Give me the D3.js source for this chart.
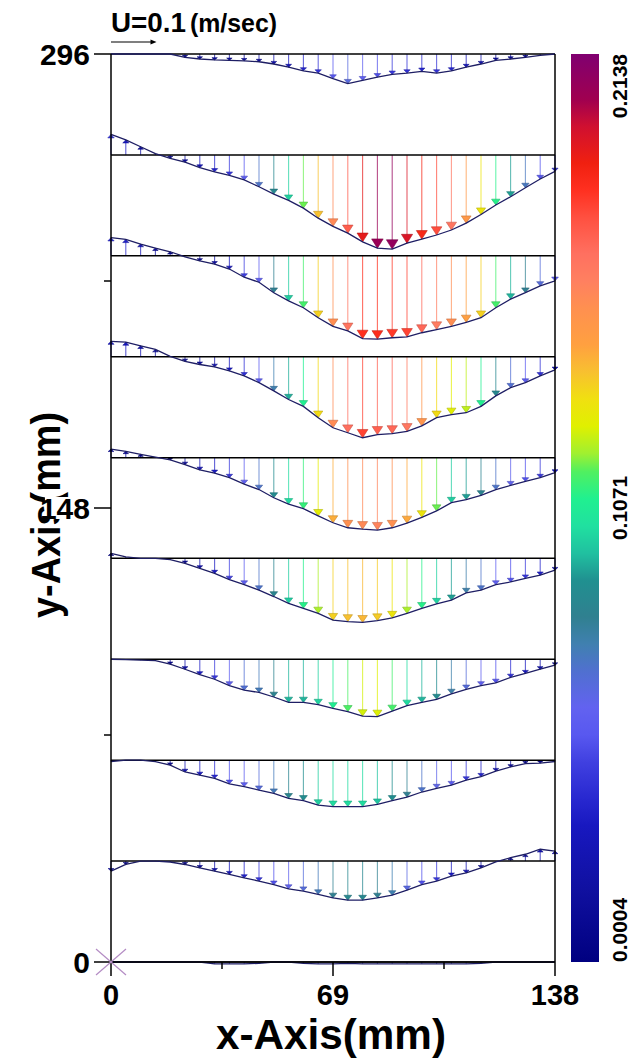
<!DOCTYPE html>
<meta charset="utf-8">
<script src="https://d3js.org/d3.v7.min.js"></script>
<style>
  body { margin: 0; background: #fff; }
  text { font-family: "Liberation Sans", Arial, sans-serif; fill: #000; }
</style>
<body>
<div id="canvas"></div>
<script>

// measuring points along the channel (mm)
var xPoints = [0, 4.6, 9.2, 13.8, 18.4, 23, 27.6, 32.2, 36.8, 41.4, 46, 50.6, 55.2, 59.8, 64.4,
               69, 73.6, 78.2, 82.8, 87.4, 92, 96.6, 101.2, 105.8, 110.4, 115, 119.6, 124.2, 128.8, 133.4, 138];

// height of each section (mm)
var sections = [296, 263.1, 230.2, 197.3, 164.4, 131.6, 98.7, 65.8, 32.9, 0];

// vertical velocity in m/s at every point (negative = downwards)
var v296 = [0, 0, 0, 0, 0, -.0075, -.011, -.013, -.014, -.015, -.017, -.022, -.029, -.037, -.042,
            -.054, -.065, -.058, -.051, -.045, -.042, -.038, -.042, -.037, -.029, -.022, -.014, -.011, -.0075, -.003, 0];
var v263 = [.045, .033, .018, .003, -.0075, -.016, -.028, -.037, -.045, -.055, -.070, -.086, -.100, -.117, -.139,
            -.157, -.172, -.191, -.205, -.207, -.194, -.185, -.176, -.165, -.150, -.131, -.110, -.092, -.072, -.053, -.036];
var v230 = [.040, .036, .026, .017, .009, -.002, -.011, -.018, -.029, -.047, -.058, -.081, -.099, -.114, -.136,
            -.155, -.165, -.182, -.183, -.180, -.178, -.169, -.162, -.155, -.146, -.136, -.114, -.095, -.081, -.066, -.055];
var v197 = [.034, .032, .024, .016, .001, -.010, -.017, -.022, -.031, -.042, -.057, -.075, -.094, -.109, -.134,
            -.156, -.167, -.178, -.171, -.169, -.164, -.152, -.134, -.127, -.123, -.109, -.086, -.068, -.057, -.042, -.029];
var v164 = [.019, .014, .0075, .001, -.005, -.015, -.027, -.034, -.044, -.058, -.070, -.088, -.102, -.112, -.128,
            -.143, -.154, -.157, -.159, -.154, -.144, -.131, -.117, -.099, -.092, -.083, -.070, -.061, -.052, -.044, -.033];
var v131 = [.011, .003, 0, 0, -.003, -.011, -.022, -.033, -.047, -.058, -.070, -.084, -.099, -.110, -.121,
            -.136, -.139, -.141, -.137, -.131, -.121, -.110, -.100, -.092, -.076, -.070, -.058, -.052, -.044, -.037, -.026];
var v98  = [0, -.001, -.002, -.003, -.011, -.022, -.034, -.044, -.058, -.068, -.073, -.083, -.095, -.095, -.100,
            -.108, -.115, -.125, -.126, -.114, -.102, -.095, -.088, -.076, -.066, -.058, -.052, -.040, -.031, -.022, -.013];
var v65  = [-.003, 0, 0, -.003, -.011, -.026, -.033, -.040, -.052, -.058, -.066, -.073, -.084, -.089, -.099,
            -.102, -.102, -.102, -.097, -.089, -.081, -.070, -.062, -.055, -.044, -.036, -.024, -.015, -.0075, -.0065, -.003];
var v32  = [-.022, -.0075, 0, 0, -.002, -.0075, -.015, -.022, -.029, -.037, -.044, -.052, -.061, -.066, -.073,
            -.081, -.086, -.086, -.081, -.075, -.064, -.052, -.044, -.033, -.026, -.015, -.002, .0075, .015, .026, .022];
var v0   = [0, 0, 0, 0, 0, 0, 0, -.004, -.004, -.004, -.003, 0, 0, -.003, -.004,
            -.004, -.003, -.004, -.004, -.004, -.004, -.004, -.004, -.004, -.004, -.003, 0, 0, 0, 0, 0];
var velocities = [v296, v263, v230, v197, v164, v131, v98, v65, v32, v0];

var xTicks = [0, 69, 138];
var xMinorTicks = [34.5, 103.5];
var yTicks = [0, 148, 296];
var yMinorTicks = [74, 222];
var colorTicks = [0.0004, 0.1071, 0.2138];
var refSpeed = 0.1;

// colour table of the legend, from low to high
var colorStops = [0, .08, .15, .18, .22, .25, .28, .32, .35, .38, .42, .45, .48, .51, .54, .56,
                  .59, .62, .65, .68, .72, .75, .78, .82, .85, .88, .92, .95, 1];
var colorHex = ["#000080", "#1010a0", "#1818c0", "#2828d0", "#4040e0", "#5858f0", "#6262f0", "#5070d0",
                "#4080b0", "#308090", "#209090", "#20c0a0", "#20e0a0", "#20f090", "#50f060", "#a0f030",
                "#e0f000", "#f0e010", "#f8c030", "#ffa040", "#ff9050", "#ff8060", "#ff7060", "#ff5040",
                "#ff3020", "#f02010", "#d01030", "#a00050", "#800070"];

var width = 637, height = 1060;

var svg = d3.select("#canvas").append("svg")
    .attr("width", width)
    .attr("height", height)
    .style("background", "#fff");

var x = d3.scaleLinear().domain([0, 138]).range([111, 555]);
var y = d3.scaleLinear().domain([0, 296]).range([962, 54]);
var vLen = d3.scaleLinear().domain([0, refSpeed]).range([0, 45.5]);

var vMin = colorTicks[0], vMax = colorTicks[2];
var color = d3.scaleLinear()
    .domain(colorStops.map(function(s){ return vMin + s * (vMax - vMin); }))
    .range(colorHex)
    .clamp(true);

// vectors --------------------------------------------------
var gVec = svg.append("g");

sections.forEach(function(sy, k){
    var base = y(sy);
    var pts = xPoints.map(function(xv, i){
        var v = velocities[k][i];
        return {x: x(xv), y0: base, y1: base - (v < 0 ? -vLen(-v) : vLen(v)), v: v};
    });
    var g = gVec.append("g");

    pts.forEach(function(d){
        if (d.v === 0) return;
        var len = Math.abs(d.y1 - d.y0);
        var dir = d.v < 0 ? 1 : -1;
        var hl = 1.8 + 0.08 * len, hw = 2.5 + 0.035 * len;
        var c = color(Math.abs(d.v));
        g.append("line")
            .attr("x1", d.x).attr("x2", d.x)
            .attr("y1", d.y0).attr("y2", d.y1)
            .attr("stroke", c)
            .attr("stroke-opacity", 0.7)
            .attr("stroke-width", 1.1);
        if (len < 2.2) return;
        g.append("path")
            .attr("d", "M" + d.x + "," + d.y1 +
                       "L" + (d.x - hw) + "," + (d.y1 - dir * hl) +
                       "L" + (d.x + hw) + "," + (d.y1 - dir * hl) + "Z")
            .attr("fill", c)
            .attr("stroke", d3.color(c).darker(0.7))
            .attr("stroke-width", 0.6);
    });

    // baseline of the section
    g.append("line")
        .attr("x1", x(0)).attr("x2", x(138))
        .attr("y1", base).attr("y2", base)
        .attr("stroke", "#000").attr("stroke-width", 1.5);

    // envelope through the tips
    g.append("path")
        .datum(pts)
        .attr("fill", "none")
        .attr("stroke", "#1e1e64")
        .attr("stroke-width", 1.3)
        .attr("d", d3.line().x(function(d){ return d.x; }).y(function(d){ return d.y1; }));
});

// frame and axes ---------------------------------------------
var gAx = svg.append("g").attr("stroke", "#000").attr("stroke-width", 1.5);
gAx.append("line").attr("x1", x(0)).attr("x2", x(0)).attr("y1", y(296)).attr("y2", y(0));
gAx.append("line").attr("x1", x(138)).attr("x2", x(138)).attr("y1", y(296)).attr("y2", y(0));
gAx.append("line").attr("x1", x(0)).attr("x2", x(138)).attr("y1", y(0)).attr("y2", y(0));

yTicks.forEach(function(t){
    gAx.append("line").attr("x1", 94).attr("x2", x(0)).attr("y1", y(t)).attr("y2", y(t));
});
yMinorTicks.forEach(function(t){
    gAx.append("line").attr("x1", 104).attr("x2", x(0)).attr("y1", y(t)).attr("y2", y(t));
});
xTicks.forEach(function(t){
    gAx.append("line").attr("x1", x(t)).attr("x2", x(t)).attr("y1", y(0)).attr("y2", y(0) + 14);
});
xMinorTicks.forEach(function(t){
    gAx.append("line").attr("x1", x(t)).attr("x2", x(t)).attr("y1", y(0)).attr("y2", y(0) + 7);
});

// asterisk at the origin
[[-15, -13, 15, 13], [-15, 13, 15, -13]].forEach(function(a){
    svg.append("line")
        .attr("x1", x(0) + a[0]).attr("y1", y(0) + a[1])
        .attr("x2", x(0) + a[2]).attr("y2", y(0) + a[3])
        .attr("stroke", "#b48cc4").attr("stroke-width", 1.2);
});

// axis titles
svg.append("text")
    .attr("transform", "translate(60,515) rotate(-90)")
    .attr("text-anchor", "middle")
    .attr("textLength", 206)
    .attr("lengthAdjust", "spacingAndGlyphs")
    .style("font-size", "41px").style("font-weight", "bold")
    .text("y-Axis(mm)");

svg.append("text")
    .attr("x", 331).attr("y", 1049)
    .attr("text-anchor", "middle")
    .attr("textLength", 230)
    .attr("lengthAdjust", "spacingAndGlyphs")
    .style("font-size", "42px").style("font-weight", "bold")
    .text("x-Axis(mm)");

// tick labels (white box behind the digits, as in the original)
yTicks.forEach(function(t){
    var g = svg.append("g");
    var r = g.append("rect").attr("fill", "#fff");
    var tx = g.append("text")
        .attr("x", 90).attr("y", y(t) + 11)
        .attr("text-anchor", "end")
        .style("font-size", "30px").style("font-weight", "bold")
        .text(t);
    var b = tx.node().getBBox();
    r.attr("x", b.x + 5).attr("y", y(t) + 11 - 22).attr("width", b.width - 5).attr("height", 22);
});

xTicks.forEach(function(t){
    svg.append("text")
        .attr("x", x(t)).attr("y", 1005)
        .attr("text-anchor", "middle")
        .style("font-size", "29px").style("font-weight", "bold")
        .text(t);
});

// reference vector
svg.append("text")
    .attr("x", x(0)).attr("y", 32)
    .attr("textLength", 75)
    .attr("lengthAdjust", "spacingAndGlyphs")
    .style("font-size", "27px").style("font-weight", "bold")
    .text("U=0.1");
svg.append("text")
    .attr("x", 190).attr("y", 32)
    .attr("textLength", 87)
    .attr("lengthAdjust", "spacingAndGlyphs")
    .style("font-size", "25px").style("font-weight", "bold")
    .text("(m/sec)");
svg.append("line")
    .attr("x1", x(0)).attr("x2", x(0) + vLen(refSpeed) - 4)
    .attr("y1", 42).attr("y2", 42)
    .attr("stroke", "#000").attr("stroke-width", 1.2);
svg.append("path")
    .attr("d", "M" + (x(0) + vLen(refSpeed)) + ",42 l-6,-2.5 l0,5 Z")
    .attr("fill", "#000");

// colour bar -----------------------------------------------------
var cb = d3.scaleLinear().domain([vMin, vMax]).range([962, 54]);
var grad = svg.append("defs").append("linearGradient")
    .attr("id", "cbar")
    .attr("x1", 0).attr("y1", 1).attr("x2", 0).attr("y2", 0);
grad.selectAll("stop")
    .data(colorStops)
    .enter().append("stop")
    .attr("offset", function(d){ return d; })
    .attr("stop-color", function(d, i){ return colorHex[i]; });

svg.append("rect")
    .attr("x", 571).attr("width", 28)
    .attr("y", cb(vMax)).attr("height", cb(vMin) - cb(vMax))
    .attr("fill", "url(#cbar)");

colorTicks.forEach(function(t, i){
    svg.append("text")
        .attr("transform", "translate(627," + cb(t) + ") rotate(-90)")
        .attr("text-anchor", i === 0 ? "start" : (i === 2 ? "end" : "middle"))
        .style("font-size", "21px").style("font-weight", "bold")
        .text(t.toFixed(4));
});

</script>
</body>
